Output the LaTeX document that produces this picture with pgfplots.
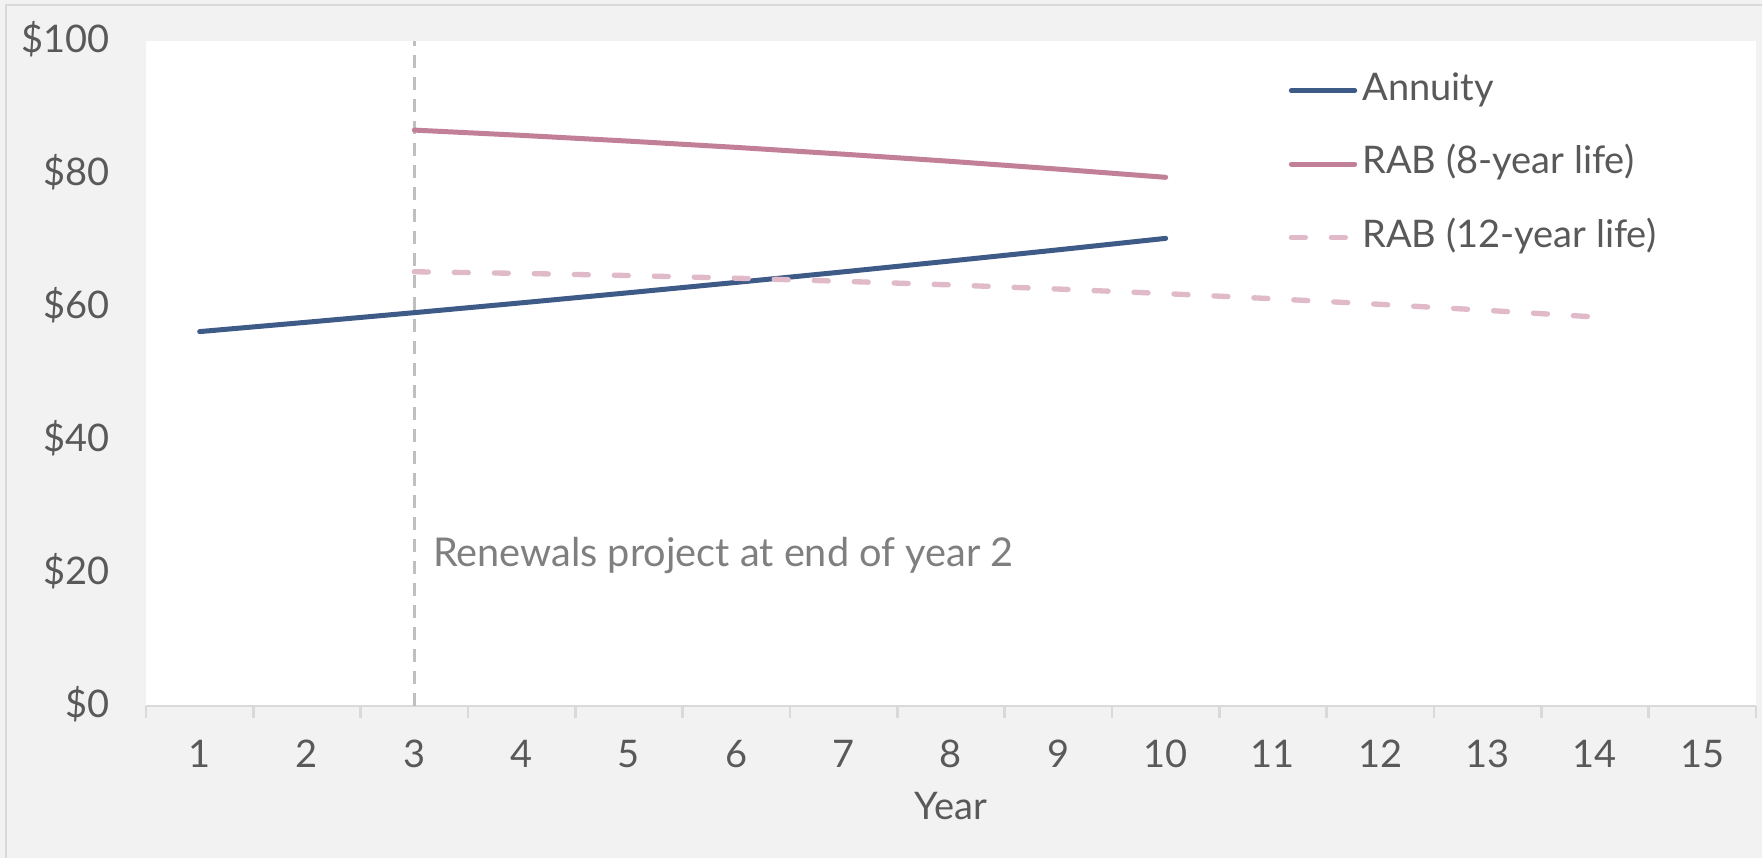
\documentclass[border=0pt]{standalone}
\usepackage{fontspec}
\setmainfont{Lato}
\usepackage{pgfplots}
\pgfplotsset{compat=1.18}

\definecolor{annuity}{HTML}{3E5A86}
\definecolor{rabeight}{HTML}{C27F98}
\definecolor{rabtwelve}{HTML}{E0BAC8}
\definecolor{refline}{HTML}{BFBFBF}
\definecolor{axisgrey}{HTML}{D9D9D9}
\definecolor{sheet}{HTML}{F2F2F2}
\definecolor{labelgrey}{HTML}{595959}
\definecolor{notegrey}{HTML}{7F7F7F}

\newcommand{\chartfont}{\fontsize{11.4}{13.7}\selectfont}
\newcommand{\notefont}{\fontsize{11.9}{14.3}\selectfont}

\begin{document}
\begin{tikzpicture}
% sheet background and frame
\fill[sheet] (0,0) rectangle (528.6pt,257.4pt);
\useasboundingbox (0,0) rectangle (528.6pt,257.4pt);
\draw[axisgrey, line width=0.6pt] (1.8pt,0) -- (1.8pt,255.9pt) -- (528.6pt,255.9pt);

\begin{axis}[
  at={(43.8pt,45.6pt)}, anchor=south west,
  scale only axis, width=483pt, height=199.5pt,
  xmin=0.5, xmax=15.5, ymin=0, ymax=100,
  axis x line*=bottom, axis y line*=left,
  y axis line style={draw=none},
  x axis line style={draw=axisgrey, line width=0.75pt},
  axis background/.style={fill=white},
  xtick={1,...,15},
  minor xtick={0.5,1.5,...,15.5},
  ytick={0,20,...,100},
  yticklabels={\$0,\$20,\$40,\$60,\$80,\$100},
  tick align=outside,
  major tick length=0pt,
  minor tick length=3.6pt,
  minor tick style={draw=axisgrey, line width=0.75pt},
  /pgf/number format/assume math mode=true,
  ticklabel style={font=\chartfont, text=labelgrey, inner sep=0pt},
  xticklabel style={anchor=base, yshift=-18.45pt},
  yticklabel style={anchor=base east, xshift=-10.8pt, yshift=-3.6pt},
  xlabel={Year},
  xlabel style={font=\chartfont, text=labelgrey, inner sep=0pt,
    at={(axis description cs:0.5,0)}, anchor=base, yshift=-34.2pt},
  legend cell align=left,
  legend image code/.code={\draw[#1] (0pt,0pt) -- (19pt,0pt);},
  legend style={draw=none, fill=none, font=\chartfont, text=labelgrey,
    at={(axis cs:11.14,95.3)}, anchor=north west,
    inner sep=0pt, row sep=11.45pt,
    nodes={inner sep=0pt, text height=8.2pt, text depth=2.4pt},
    /tikz/every odd column/.style={column sep=1.5pt}},
]

% renewals project marker
\addplot[refline, line width=0.75pt, dash pattern=on 4pt off 2.6pt, forget plot]
  coordinates {(3,0) (3,100)};

\addplot[annuity, line width=1.5pt, line cap=round] coordinates {
  (1,56.30) (2,57.71) (3,59.15) (4,60.63) (5,62.15)
  (6,63.70) (7,65.29) (8,66.93) (9,68.60) (10,70.32)
};
\addlegendentry{Annuity}

\addplot[rabeight, line width=1.5pt, line cap=round] coordinates {
  (3,86.60) (4,85.81) (5,84.94) (6,84.00)
  (7,82.98) (8,81.90) (9,80.73) (10,79.50)
};
\addlegendentry{RAB (8-year life)}

\addplot[rabtwelve, line width=1.6pt, line cap=round, dash pattern=on 4.2pt off 7.8pt] coordinates {
  (3,65.30) (4,65.05) (5,64.73) (6,64.33) (7,63.86) (8,63.32)
  (9,62.70) (10,62.01) (11,61.24) (12,60.40) (13,59.49) (14,58.50)
};
\addlegendentry{RAB (12-year life)}

\node[anchor=base west, inner sep=0pt, font=\notefont, text=notegrey]
  at (axis cs:3.17,21.05) {Renewals project at end of year 2};
\end{axis}
\end{tikzpicture}
\end{document}
